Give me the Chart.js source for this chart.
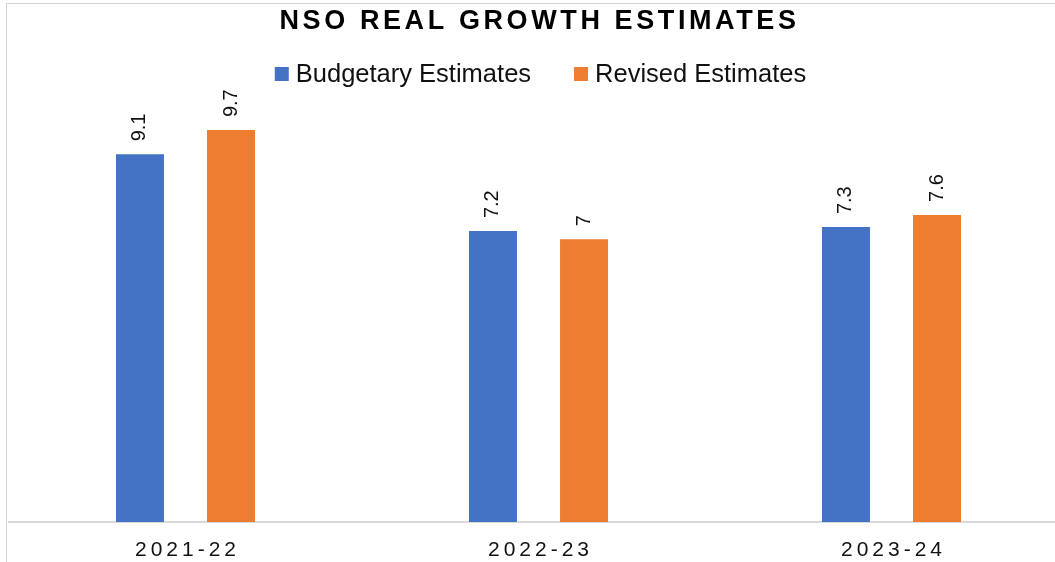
<!DOCTYPE html>
<html>
<head>
<meta charset="utf-8">
<script src="https://cdn.jsdelivr.net/npm/chart.js@4.4.0/dist/chart.umd.min.js"></script>
<style>
  html, body { margin: 0; padding: 0; background: #fff; overflow: hidden; }
  #wrap { position: relative; width: 1075px; height: 562px; }
  #frame { position: absolute; left: 6px; top: 3px; width: 1200px; height: 600px;
           border-top: 1px solid #d4d4d4; border-left: 1px solid #d4d4d4; pointer-events: none; }
</style>
</head>
<body>
<div id="wrap">
  <canvas id="chart" width="1075" height="562"></canvas>
  <div id="frame"></div>
</div>
<script>
const years = ["2021-22", "2022-23", "2023-24"];
const budgetaryEstimates = [9.1, 7.2, 7.3];
const revisedEstimates = [9.7, 7, 7.6];
const seriesNames = ["Budgetary Estimates", "Revised Estimates"];
const chartTitle = "NSO REAL GROWTH ESTIMATES";

const FONT = "'Liberation Sans', Arial, sans-serif";

// title, legend and the rotated value labels
const textPlugin = {
  id: "textPlugin",
  beforeDraw(chart) {
    chart.ctx.letterSpacing = "0px";
  },
  afterDatasetsDraw(chart) {
    const ctx = chart.ctx;
    ctx.save();
    ctx.letterSpacing = "0px";
    ctx.font = "20px " + FONT;
    ctx.fillStyle = "#111";
    ctx.textAlign = "left";
    ctx.textBaseline = "middle";
    chart.data.datasets.forEach((ds, i) => {
      chart.getDatasetMeta(i).data.forEach((bar, j) => {
        ctx.save();
        ctx.translate(bar.x, bar.y - 13);
        ctx.rotate(-Math.PI / 2);
        ctx.fillText(String(ds.data[j]), 0, 0);
        ctx.restore();
      });
    });
    ctx.restore();
    // spaced out x labels are drawn after this (ticks z = 1)
    ctx.letterSpacing = "4px";
  },
  afterDraw(chart) {
    const ctx = chart.ctx;
    const area = chart.chartArea;
    const mid = (area.left + area.right) / 2;
    ctx.save();
    ctx.fillStyle = "#000";
    ctx.font = "bold 27px " + FONT;
    ctx.letterSpacing = "3.6px";
    ctx.textAlign = "center";
    ctx.textBaseline = "alphabetic";
    ctx.fillText(chartTitle, mid + 1, 29);

    // legend
    ctx.letterSpacing = "0px";
    ctx.font = "25.5px " + FONT;
    ctx.textAlign = "left";
    const box = 14, gap = 7, itemGap = 43;
    const widths = chart.data.datasets.map(ds => box + gap + ctx.measureText(ds.label).width);
    const total = widths.reduce((a, b) => a + b, 0) + itemGap * (widths.length - 1);
    let x = mid + 2 - total / 2;
    chart.data.datasets.forEach((ds, i) => {
      ctx.fillStyle = ds.backgroundColor;
      ctx.fillRect(x, 67, box, box);
      ctx.fillStyle = "#111";
      ctx.fillText(ds.label, x + box + gap, 82);
      x += widths[i] + itemGap;
    });
    ctx.restore();
    ctx.letterSpacing = "0px";
  }
};

new Chart(document.getElementById("chart"), {
  type: "bar",
  data: {
    labels: years,
    datasets: [
      { label: seriesNames[0], data: budgetaryEstimates, backgroundColor: "#4472C4" },
      { label: seriesNames[1], data: revisedEstimates, backgroundColor: "#ED7D31" }
    ]
  },
  options: {
    responsive: false,
    devicePixelRatio: 1,
    animation: false,
    layout: { padding: { left: 9, right: 7, top: 118, bottom: 0 } },
    categoryPercentage: 0.516,
    barPercentage: 0.527,
    plugins: {
      legend: { display: false },
      title: { display: false },
      tooltip: { enabled: false }
    },
    scales: {
      x: {
        grid: { display: false, drawTicks: false },
        border: { display: true, color: "#d9d9d9", width: 2 },
        ticks: {
          z: 1,
          padding: 16,
          labelOffset: 2,
          color: "#111",
          font: { family: FONT, size: 21 }
        },
        afterFit(scale) { scale.height = 40; }
      },
      y: {
        display: false,
        min: 0,
        max: 10
      }
    }
  },
  plugins: [textPlugin]
});
</script>
</body>
</html>
